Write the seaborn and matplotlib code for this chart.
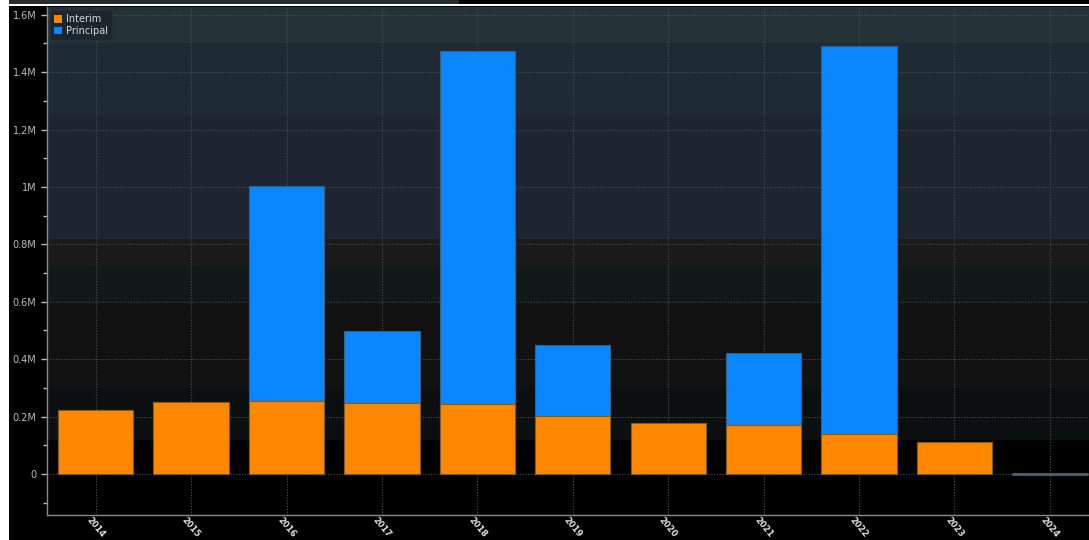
import matplotlib
matplotlib.use("Agg")
import matplotlib.pyplot as plt
import seaborn as sns
import pandas as pd
import numpy as np
from matplotlib.patches import Patch, Rectangle
from matplotlib.ticker import MultipleLocator, FuncFormatter

years = ["2014", "2015", "2016", "2017", "2018", "2019", "2020", "2021", "2022", "2023", "2024"]
interim = [0.223, 0.251, 0.254, 0.247, 0.244, 0.202, 0.178, 0.171, 0.139, 0.111, 0.0]
principal = [0.0, 0.0, 0.749, 0.251, 1.230, 0.247, 0.0, 0.251, 1.352, 0.0, 0.0]

df = pd.DataFrame({"year": years, "interim": interim, "principal": principal})
df["total"] = df["interim"] + df["principal"]

sns.set_style("dark")
plt.rcParams["font.family"] = ["DejaVu Sans"]

fig = plt.figure(figsize=(10.89, 5.40), dpi=100, facecolor="black")
ax = fig.add_axes([47 / 1089, 25 / 540, 1 - 47 / 1089, 508 / 540])
ax.set_facecolor("black")

# background bands
bands = [(1.5, 1.7, "#243238"), (1.25, 1.5, "#1f2b34"), (0.82, 1.25, "#1c2530"),
         (0.72, 0.82, "#1a1a1a"), (0.6, 0.72, "#121919"), (0.3, 0.6, "#111111"),
         (0.12, 0.3, "#0b0f0f")]
for lo, hi, c in bands:
    ax.axhspan(lo * 1e6, hi * 1e6, color=c, zorder=0, lw=0)

blue = "#0a87ff"
orange = "#ff8800"
sns.barplot(data=df, x="year", y=df["total"] * 1e6, color=blue, width=0.79,
            edgecolor="#3a5e80", linewidth=0.8, ax=ax, zorder=3, saturation=1)
sns.barplot(data=df, x="year", y=df["interim"] * 1e6, color=orange, width=0.79,
            edgecolor="#7a5a30", linewidth=0.8, ax=ax, zorder=4, saturation=1)
# 2024 zero bar as a gray line
ax.hlines(0, 10 - 0.395, 10 + 0.395, color="#4a5a66", lw=2.2, zorder=5)

ax.set_xlim(-0.51, 10.41)
ax.set_ylim(-0.143e6, 1.627e6)
ax.set_xlabel("")
ax.set_ylabel("")

ax.yaxis.set_major_locator(MultipleLocator(0.2e6))
ax.yaxis.set_minor_locator(MultipleLocator(0.1e6))

def fmt(v, pos):
    m = v / 1e6
    if abs(m) < 1e-9:
        return "0"
    if abs(m - round(m)) < 1e-9:
        return f"{int(round(m))}M"
    return f"{m:.1f}M"

ax.yaxis.set_major_formatter(FuncFormatter(fmt))

ax.grid(True, which="major", axis="both", color="#4a4f54", linestyle=(0, (1, 1.5)), lw=0.8, zorder=1)
ax.set_axisbelow(True)

for s in ["top", "right"]:
    ax.spines[s].set_visible(False)
for s in ["left", "bottom"]:
    ax.spines[s].set_visible(True)
    ax.spines[s].set_color("#8a8a8a")
    ax.spines[s].set_linewidth(1.0)

ax.tick_params(axis="y", which="major", direction="out", length=4, width=1, color="#bbbbbb",
               labelcolor="#bbbbbb", labelsize=7, left=True)
ax.tick_params(axis="y", which="minor", direction="out", length=3, width=1, color="#bbbbbb", left=True)
ax.tick_params(axis="x", which="major", direction="out", length=0, width=1, color="#888888",
               labelcolor="#e0e0e0", labelsize=6, bottom=True, pad=0.5)
for lab in ax.get_xticklabels():
    lab.set_rotation(-50)
    lab.set_ha("center")
    lab.set_va("top")
    lab.set_rotation_mode("default")
    lab.set_fontweight("bold")

handles = [Patch(facecolor=orange, edgecolor="none", label="Interim"),
           Patch(facecolor=blue, edgecolor="none", label="Principal")]
leg = ax.legend(handles=handles, loc="upper left", bbox_to_anchor=(0.0, 1.0), fontsize=7,
                frameon=True, facecolor="#1c262e", edgecolor="#1c262e", framealpha=1,
                handlelength=0.8, handleheight=0.8, handletextpad=0.4, borderpad=0.35,
                labelspacing=0.15, borderaxespad=0.4)
for t in leg.get_texts():
    t.set_color("#d8d8d8")
leg.set_zorder(10)

# screenshot edges
fig.patches.append(Rectangle((0, 0), 9 / 1089, 1, transform=fig.transFigure, facecolor="white",
                             edgecolor="none", zorder=20))
fig.patches.append(Rectangle((9 / 1089, 1 - 4 / 540), 450 / 1089, 4 / 540, transform=fig.transFigure,
                             facecolor="#2a2d30", edgecolor="none", zorder=20))
fig.patches.append(Rectangle((9 / 1089, 1 - 6 / 540), 1, 2 / 540, transform=fig.transFigure,
                             facecolor="white", edgecolor="none", zorder=20))

fig.savefig("out.png", dpi=100, facecolor="black")
